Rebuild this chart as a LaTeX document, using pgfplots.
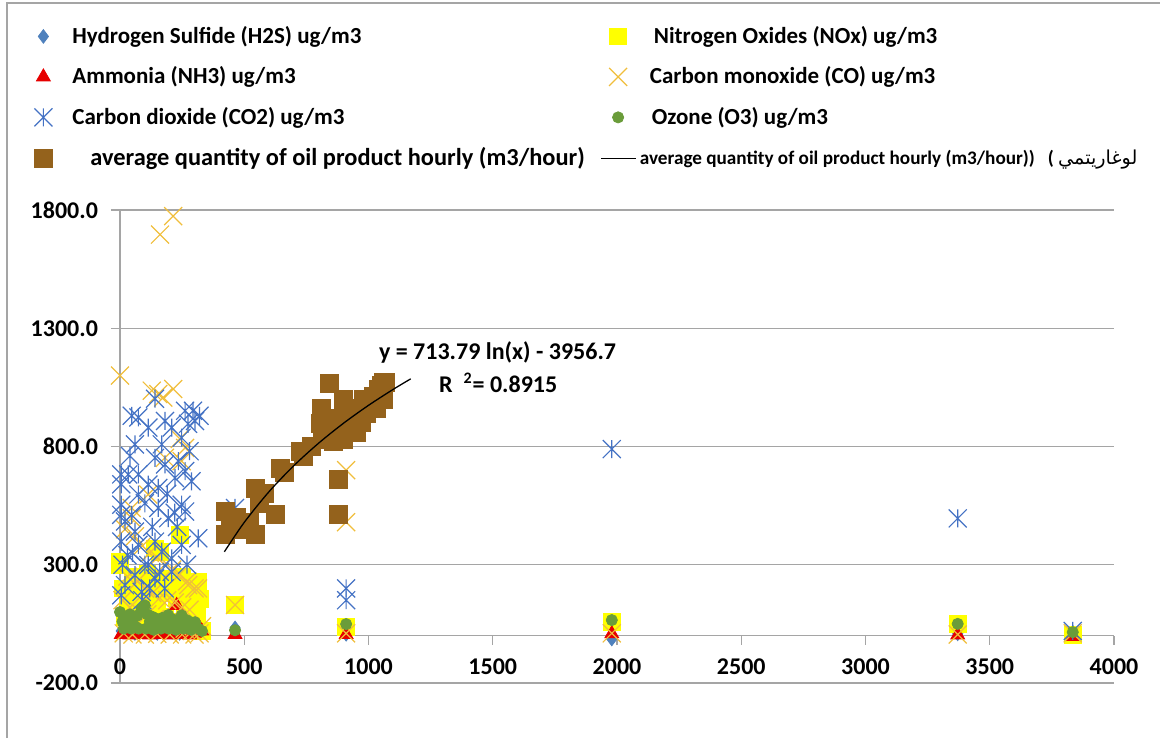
\documentclass[border=0pt]{standalone}
\usepackage{fontspec}
\setmainfont{Carlito}
\newfontfamily\arabicfont[Script=Arabic]{DejaVu Sans}
\TeXXeTstate=1
\usepackage{pgfplots}
\pgfplotsset{compat=1.18}
\definecolor{hcol}{RGB}{79,129,189}
\definecolor{ncol}{RGB}{255,255,0}
\definecolor{acol}{RGB}{230,0,0}
\definecolor{cocol}{RGB}{240,190,60}
\definecolor{cdcol}{RGB}{68,114,196}
\definecolor{ocol}{RGB}{106,156,58}
\definecolor{oilcol}{RGB}{148,98,28}
\definecolor{gridc}{RGB}{165,165,165}
\pgfdeclareplotmark{xstar}{%
  \pgfpathmoveto{\pgfqpoint{-\pgfplotmarksize}{-\pgfplotmarksize}}%
  \pgfpathlineto{\pgfqpoint{\pgfplotmarksize}{\pgfplotmarksize}}%
  \pgfpathmoveto{\pgfqpoint{-\pgfplotmarksize}{\pgfplotmarksize}}%
  \pgfpathlineto{\pgfqpoint{\pgfplotmarksize}{-\pgfplotmarksize}}%
  \pgfpathmoveto{\pgfqpoint{0pt}{-\pgfplotmarksize}}%
  \pgfpathlineto{\pgfqpoint{0pt}{\pgfplotmarksize}}%
  \pgfusepathqstroke}
\pgfdeclareplotmark{bigx}{%
  \pgfpathmoveto{\pgfqpoint{-\pgfplotmarksize}{-\pgfplotmarksize}}%
  \pgfpathlineto{\pgfqpoint{\pgfplotmarksize}{\pgfplotmarksize}}%
  \pgfpathmoveto{\pgfqpoint{-\pgfplotmarksize}{\pgfplotmarksize}}%
  \pgfpathlineto{\pgfqpoint{\pgfplotmarksize}{-\pgfplotmarksize}}%
  \pgfusepathqstroke}
\begin{document}
\begin{tikzpicture}
\useasboundingbox (-60pt,-27.5pt) rectangle (520pt,341.5pt);
\draw[gridc, line width=0.8pt] (-56.5pt,-27.5pt) -- (-56.5pt,340pt) -- (520pt,340pt);
\begin{axis}[
  at={(0,0)}, anchor=south west, scale only axis,
  width=497pt, height=236.5pt,
  xmin=0, xmax=4000, ymin=-200, ymax=1800,
  axis x line*=middle, axis y line*=left,
  xtick={0,500,...,4000}, ytick={-200,300,...,1800},
  hide obscured x ticks=false,
  tick align=outside, major tick length=4.5pt,
  tick style={gridc, line width=0.6pt},
  axis line style={gridc, line width=0.7pt},
  ymajorgrids, grid style={gridc, line width=0.7pt},
  clip=false, clip mode=individual,
  tick label style={font=\fontsize{12}{14}\selectfont\bfseries},
  /pgf/number format/assume math mode=true,
  xticklabel style={/pgf/number format/1000 sep={}, yshift=-3.5pt},
  yticklabel style={xshift=-3pt, /pgf/number format/.cd, fixed, fixed zerofill, precision=1, 1000 sep={}},
  legend columns=2,
  legend cell align=left,
  legend style={draw=none, fill=none, at={(axis description cs:0,1)}, anchor=north west,
    xshift=-46pt, yshift=96pt, row sep=6.2pt,
    font=\fontsize{11.5}{13}\selectfont\bfseries},
]
% Hydrogen Sulfide
\addplot[only marks, mark=diamond*, mark size=3.4pt, color=hcol] coordinates {
(168,100)(335,29)(161,107)(5,20)(30,15)(60,10)(90,20)(120,15)(150,10)(180,20)(210,15)(240,10)(270,20)(300,15)
(463,33)(910,6)(1979,-14)(3371,8)(3834,15)};
\addlegendentry{\makebox[270pt][l]{\hspace{8pt}Hydrogen Sulfide (H2S) ug/m3}}
% Nitrogen Oxides
\addplot[only marks, mark=square*, mark size=4.2pt, color=ncol] coordinates {
(241,427)(0,300)(315,228)(322,156)(161,355)(0,313)(141,369)(10,200)(30,150)(50,250)(70,180)(90,120)
(110,260)(130,200)(150,140)(170,240)(190,180)(210,220)(230,160)(250,250)(270,190)(290,120)(310,80)
(20,80)(60,60)(100,90)(140,70)(180,80)(220,60)(260,70)(300,40)(40,30)(120,30)(200,30)(280,30)(330,20)
(463,130)(910,36)(1979,57)(3371,50)(3834,2)};
\addlegendentry{\hspace{7pt}Nitrogen Oxides (NOx) ug/m3}
% Ammonia
\addplot[only marks, mark=triangle*, mark size=4pt, color=acol] coordinates {
(228,128)(329,20)(322,30)(5,5)(20,8)(40,3)(60,10)(80,5)(100,8)(120,3)(140,10)(160,5)(180,8)(200,3)
(220,10)(240,5)(260,8)(280,3)(300,10)(250,20)
(463,5)(910,5)(1979,8)(3371,3)(3834,-3)};
\addlegendentry{\makebox[270pt][l]{\hspace{8pt}Ammonia (NH3) ug/m3}}
% Carbon monoxide
\addplot[only marks, mark=bigx, mark size=4.5pt, color=cocol, mark options={line width=0.6pt}] coordinates {
(0,1100)(161,1696)(214,1774)(128,1036)(154,1022)(214,1043)(174,1007)(241,832)(262,794)(181,752)(248,738)
(114,597)(47,540)(47,497)(20,450)(60,420)(90,380)(120,350)(150,330)(180,300)(210,280)(240,260)(270,230)
(300,200)(30,250)(70,230)(100,200)(130,180)(160,160)(190,150)(220,140)(250,120)(280,110)(10,150)(40,120)
(80,100)(110,90)(140,70)(170,60)(200,50)(230,40)(260,30)(290,20)(320,10)(15,10)(50,5)(100,5)(150,8)
(200,5)(250,5)(300,5)(330,40)(274,214)(314,200)
(463,130)(910,700)(910,480)(910,10)(1979,10)(3371,5)(3834,10)};
\addlegendentry{\hspace{5pt}Carbon monoxide (CO) ug/m3}
% Carbon dioxide
\addplot[only marks, mark=xstar, mark size=4.5pt, color=cdcol, mark options={line width=0.6pt}] coordinates {
(5,640)(5,554)(5,511)(5,398)(5,171)(5,682)(20,483)(20,214)(33,682)(47,930)(47,511)(60,809)(60,440)
(60,256)(74,923)(74,682)(74,597)(74,384)(87,185)(114,880)(114,639)(114,299)(141,1002)(141,752)(141,398)
(141,242)(154,625)(154,540)(168,809)(168,355)(181,908)(181,724)(194,497)(208,880)(208,327)(208,270)
(221,667)(235,738)(248,837)(248,554)(248,384)(262,951)(262,696)(262,525)(274,896)(288,653)(294,951)
(302,908)(315,412)(320,930)(100,300)(30,340)(130,460)(230,460)(90,150)(180,200)(270,300)(10,300)
(40,760)(100,560)(190,600)(280,780)(50,350)(160,270)(220,520)(120,200)
(463,540)(910,200)(910,150)(1979,789)(3371,496)(3834,20)};
\addlegendentry{\makebox[270pt][l]{\hspace{8pt}Carbon dioxide (CO2) ug/m3}}
% Ozone
\addplot[only marks, mark=*, mark size=2.8pt, color=ocol] coordinates {
(0,100)(10,60)(20,80)(30,50)(40,90)(50,70)(60,40)(70,85)(87,114)(100,128)(110,90)(120,60)(130,80)
(140,50)(150,70)(160,40)(170,75)(180,60)(194,87)(200,50)(210,70)(220,40)(230,60)(248,86)(260,50)
(270,65)(280,40)(290,55)(302,57)(315,30)(330,20)(15,30)(45,30)(75,30)(105,30)(135,25)(165,30)
(195,30)(225,25)(255,30)(285,25)
(463,23)(910,49)(1979,66)(3371,50)(3834,15)};
\addlegendentry{\hspace{6pt}Ozone (O3) ug/m3}
% Oil product
\addplot[only marks, mark=square*, mark size=4.5pt, color=oilcol] coordinates {
(423,525)(423,428)(445,470)(470,500)(500,450)(520,480)(543,623)(543,428)(560,560)(580,600)(624,513)
(644,708)(660,690)(724,780)(740,760)(770,800)(805,896)(809,963)(815,830)(820,880)(841,1066)(857,820)
(870,870)(877,662)(877,513)(880,920)(900,998)(900,830)(915,880)(930,950)(940,900)(950,860)(960,960)
(980,1000)(990,940)(1000,980)(1020,1010)(1040,1040)(1050,1060)(1060,1070)(1070,1070)(1060,1000)
(1030,960)(970,900)};
\addlegendentry{\makebox[270pt][l]{\hspace{17pt}\fontsize{12.2}{13}\selectfont average quantity of oil product hourly (m3/hour)}}
% Logarithmic trendline y = 713.79 ln(x) - 3956.7
\addplot[black, line width=0.65pt, smooth] coordinates {
(420,354.8)(500,479.2)(600,609.3)(700,719.4)(800,814.7)(900,898.8)(1000,974.0)(1100,1042.0)(1170,1086.1)};
\addlegendentry{{\fontsize{9.6}{11}\selectfont average quantity of oil product hourly (m3/hour))\ \ \ ( {\mdseries\arabicfont\beginR لوغاريتمي\endR}}}
\node[anchor=west, font=\fontsize{12}{14}\selectfont\bfseries] at (axis cs:1014,1198) {y = 713.79 ln(x) - 3956.7};
\node[anchor=west, font=\fontsize{12}{14}\selectfont\bfseries] at (axis cs:1256,1070) {R\ \ \textsuperscript{2}= 0.8915};
\end{axis}
\end{tikzpicture}
\end{document}
